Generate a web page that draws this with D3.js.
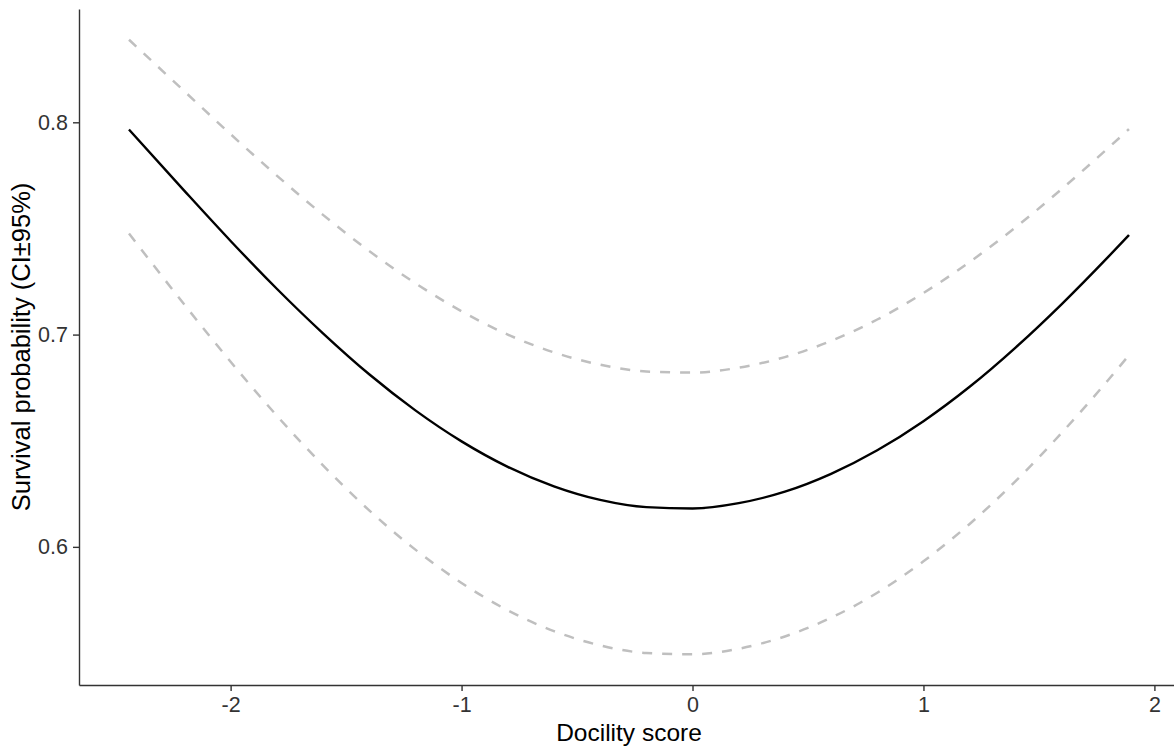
<!DOCTYPE html>
<html>
<head>
<meta charset="utf-8">
<script src="https://cdn.jsdelivr.net/npm/d3@7"></script>
<style>
  body { margin: 0; background: #fff; }
  svg { display: block; }
</style>
</head>
<body>
<svg id="chart" width="1174" height="746"></svg>
<script>
// docility score values the curves were read at
var docility = [-2.44, -2.2, -2.0, -1.8, -1.6, -1.4, -1.2, -1.0, -0.8, -0.6, -0.4, -0.2,
                0, 0.2, 0.4, 0.6, 0.8, 1.0, 1.2, 1.4, 1.6, 1.8, 1.89];

// predicted survival probability
var survival = [0.7966, 0.7677, 0.7441, 0.7216, 0.7006, 0.6813, 0.6643, 0.6497, 0.6377, 0.6285, 0.6221, 0.6187,
                0.6181, 0.6206, 0.6260, 0.6344, 0.6455, 0.6592, 0.6754, 0.6940, 0.7145, 0.7366, 0.7469];

// upper 95% CI
var upperCI = [0.8389, 0.8146, 0.7944, 0.7749, 0.7564, 0.7394, 0.7242, 0.7110, 0.7000, 0.6916, 0.6858, 0.6826,
               0.6821, 0.6844, 0.6894, 0.6970, 0.7071, 0.7196, 0.7342, 0.7506, 0.7687, 0.7879, 0.7968];

// lower 95% CI
var lowerCI = [0.7476, 0.7141, 0.6872, 0.6618, 0.6384, 0.6172, 0.5987, 0.5830, 0.5701, 0.5603, 0.5536, 0.5500,
               0.5494, 0.5520, 0.5578, 0.5666, 0.5784, 0.5932, 0.6108, 0.6311, 0.6539, 0.6786, 0.6903];

var xTicks = [-2, -1, 0, 1, 2];
var yTicks = [0.6, 0.7, 0.8];

var svg = d3.select("#chart"),
    margin = {top: 9, right: -5, bottom: 61, left: 79},
    width = +svg.attr("width") - margin.left - margin.right,
    height = +svg.attr("height") - margin.top - margin.bottom,
    g = svg.append("g").attr("transform", "translate(" + margin.left + "," + margin.top + ")");

// ggplot style 5% expansion around the data
var xExt = d3.extent(docility),
    xPad = (xExt[1] - xExt[0]) * 0.05;
var yMin = d3.min(lowerCI), yMax = d3.max(upperCI),
    yPad = (yMax - yMin) * 0.05;

var x = d3.scaleLinear().domain([xExt[0] - xPad, xExt[1] + xPad]).range([0, width]);
var y = d3.scaleLinear().domain([yMin - yPad, yMax + yPad]).range([height, 0]);

function lineFor(vals) {
  return d3.line()
    .x(function(d, i) { return x(docility[i]); })
    .y(function(d) { return y(d); })
    .curve(d3.curveMonotoneX)(vals);
}

// confidence bounds
[upperCI, lowerCI].forEach(function(vals) {
  g.append("path")
    .attr("d", lineFor(vals))
    .attr("fill", "none")
    .attr("stroke", "#bfbfbf")
    .attr("stroke-width", 2.5)
    .attr("stroke-dasharray", "10,10");
});

// fitted line
g.append("path")
  .attr("d", lineFor(survival))
  .attr("fill", "none")
  .attr("stroke", "#000")
  .attr("stroke-width", 2.4)
  .attr("stroke-linejoin", "round");

// axes
var xAxis = g.append("g")
  .attr("transform", "translate(0," + height + ")")
  .call(d3.axisBottom(x).tickValues(xTicks).tickSizeInner(6).tickSizeOuter(0).tickPadding(6).tickFormat(d3.format("d")));
var yAxis = g.append("g")
  .call(d3.axisLeft(y).tickValues(yTicks).tickSizeInner(6).tickSizeOuter(0).tickPadding(5).tickFormat(d3.format(".1f")));

[xAxis, yAxis].forEach(function(a) {
  a.select(".domain").attr("stroke", "#333").attr("stroke-width", 1.4);
  a.selectAll(".tick line").attr("stroke", "#333").attr("stroke-width", 1.4);
  a.selectAll(".tick text")
    .attr("fill", "#333")
    .attr("font-family", "Liberation Sans, Arial, sans-serif")
    .attr("font-size", 21.5);
});
xAxis.selectAll(".tick text").text(function(d) { return d < 0 ? "-" + Math.abs(d) : d; });

// axis titles
svg.append("text")
  .attr("x", margin.left + width / 2)
  .attr("y", 740.5)
  .attr("text-anchor", "middle")
  .attr("font-family", "Liberation Sans, Arial, sans-serif")
  .attr("font-size", 24.5)
  .attr("fill", "#000")
  .text("Docility score");

svg.append("text")
  .attr("transform", "translate(30," + (margin.top + height / 2) + ") rotate(-90)")
  .attr("text-anchor", "middle")
  .attr("font-family", "Liberation Sans, Arial, sans-serif")
  .attr("font-size", 25.5)
  .attr("fill", "#000")
  .text("Survival probability (CI\u00b195%)");
</script>
</body>
</html>
